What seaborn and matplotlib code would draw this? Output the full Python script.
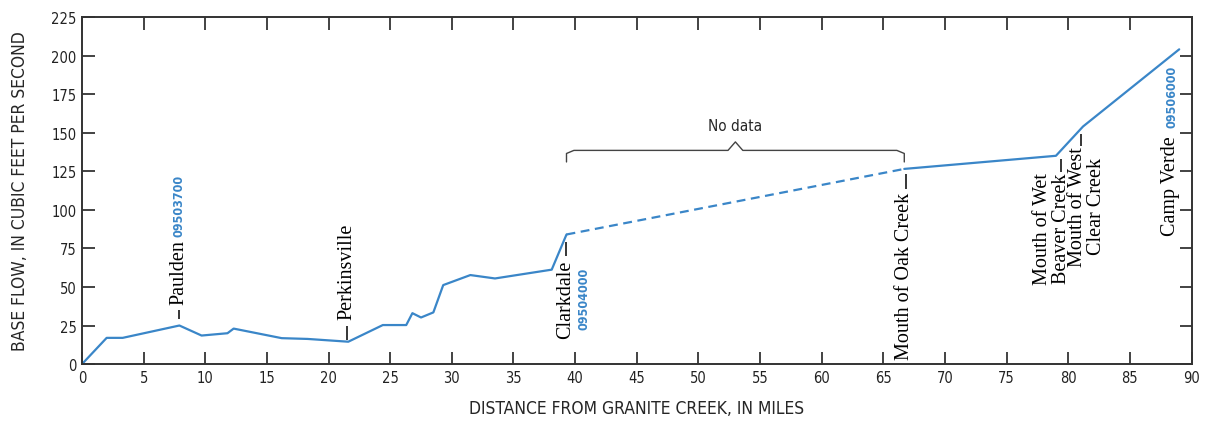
import numpy as np
import pandas as pd
import matplotlib
matplotlib.use('Agg')
import matplotlib.pyplot as plt
import seaborn as sns

# measured base flow along the river
miles_up = [0, 2.0, 3.3, 7.9, 9.7, 11.8, 12.3, 16.2, 18.3, 21.6, 24.4, 26.3,
            26.8, 27.5, 28.5, 29.3, 31.5, 33.5, 38.1, 39.3]
flow_up = [0, 17, 17, 25, 18.5, 20, 23, 16.8, 16.3, 14.5, 25.3, 25.3,
           33, 30.2, 33.5, 51.2, 57.7, 55.5, 61.2, 84]
# reach without data (dashed)
miles_gap = [39.3, 66.7]
flow_gap = [84, 126.5]
# downstream reach
miles_down = [66.7, 79.0, 81.2, 89.0]
flow_down = [126.5, 135, 154, 204]

x_ticks = list(range(0, 91, 5))
y_ticks = list(range(0, 226, 25))

blue = '#3a86c8'
sans = ['DejaVu Sans']
serif = ['Liberation Serif', 'DejaVu Serif']

sns.set_style('ticks')
plt.rcParams['font.family'] = sans
plt.rcParams['font.stretch'] = 'condensed'

df = pd.concat([
    pd.DataFrame({'mile': miles_up, 'flow': flow_up, 'seg': 'up'}),
    pd.DataFrame({'mile': miles_gap, 'flow': flow_gap, 'seg': 'gap'}),
    pd.DataFrame({'mile': miles_down, 'flow': flow_down, 'seg': 'down'}),
])

fig = plt.figure(figsize=(12.06, 4.27), dpi=100)
ax = fig.add_axes([0.068, 0.145, 0.920, 0.813])

sns.lineplot(data=df, x='mile', y='flow', units='seg', style='seg',
             dashes={'up': '', 'gap': (4, 2.5), 'down': ''},
             estimator=None, sort=False, color=blue, linewidth=1.6,
             legend=False, ax=ax)

ax.set_xlim(0, 90)
ax.set_ylim(0, 225)
ax.set_xticks(x_ticks)
ax.set_yticks(y_ticks)
ax.tick_params(direction='in', length=9, width=1.2, top=True, right=True,
               labelsize=10.5, colors='#222222', pad=4)
for s in ax.spines.values():
    s.set_linewidth(1.4)
    s.set_color('#333333')
    s.set_visible(True)
ax.set_xlabel('DISTANCE FROM GRANITE CREEK, IN MILES', fontsize=12.5, labelpad=10)
ax.set_ylabel('BASE FLOW, IN CUBIC FEET PER SECOND', fontsize=12.5, labelpad=16)

lab = dict(rotation=90, family=serif, fontsize=14.5, color='black')
num = dict(rotation=90, family=sans, fontsize=9, color=blue, weight='bold',
           stretch='condensed')
lc = dict(color='black', linewidth=1.1)

# Paulden
ax.vlines(7.9, 29, 35, **lc)
ax.text(7.9, 39, 'Paulden', ha='center', va='bottom', **lab)
ax.text(7.9, 83, '09503700', ha='center', va='bottom', **num)
# Perkinsville
ax.vlines(21.5, 15.6, 24.6, **lc)
ax.text(21.5, 29, 'Perkinsville', ha='center', va='bottom', **lab)
# Clarkdale
ax.vlines(39.3, 70, 79, **lc)
ax.text(39.2, 68, 'Clarkdale', ha='center', va='top', **lab)
ax.text(40.7, 63, '09504000', ha='center', va='top', **num)
# Mouth of Oak Creek
ax.vlines(66.8, 113.5, 123, **lc)
ax.text(66.7, 111.5, 'Mouth of Oak Creek', ha='center', va='top', **lab)
# Wet Beaver Creek
ax.vlines(79.4, 124.5, 133, **lc)
ax.text(78.7, 124.5, 'Mouth of Wet\nBeaver Creek', ha='center', va='top',
        multialignment='center', linespacing=1.0, **lab)
# West Clear Creek
ax.vlines(81.0, 141.5, 149, **lc)
ax.text(81.5, 141.5, 'Mouth of West\nClear Creek', ha='center', va='top',
        multialignment='center', linespacing=1.0, **lab)
# Camp Verde
ax.text(88.3, 148, 'Camp Verde', ha='center', va='top', **lab)
ax.text(88.4, 153.5, '09506000', ha='center', va='bottom', **num)

# brace over the no-data reach
x0, x1 = miles_gap
xm = (x0 + x1) / 2
r = 0.6
bx = [x0, x0, x0 + r, xm - r, xm, xm + r, x1 - r, x1, x1]
by = [131, 136.5, 138.5, 138.5, 144, 138.5, 138.5, 136.5, 131]
ax.plot(bx, by, color='#444444', linewidth=1.0)
ax.text(xm, 150, 'No data', ha='center', va='bottom', fontsize=11, family=sans)

fig.savefig('out.png', dpi=100)
